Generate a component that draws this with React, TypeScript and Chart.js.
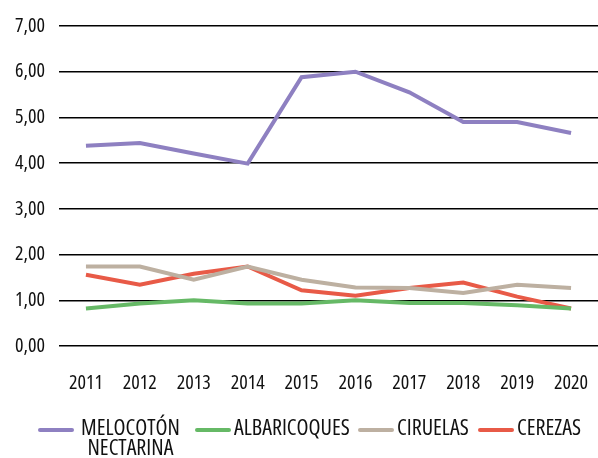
import React, { useEffect, useRef } from "react";
import { Chart, registerables } from "chart.js";

Chart.register(...registerables);

const years = ["2011", "2012", "2013", "2014", "2015", "2016", "2017", "2018", "2019", "2020"];
const melocoton = [4.38, 4.44, 4.21, 3.99, 5.88, 6.0, 5.55, 4.9, 4.9, 4.66];
const albaricoques = [0.82, 0.93, 1.0, 0.93, 0.93, 1.0, 0.94, 0.94, 0.89, 0.82];
const ciruelas = [1.74, 1.74, 1.45, 1.74, 1.45, 1.28, 1.27, 1.16, 1.34, 1.27];
const cerezas = [1.56, 1.34, 1.58, 1.74, 1.22, 1.1, 1.27, 1.39, 1.08, 0.82];
const seriesNames: (string | string[])[] = [["MELOCOTÓN", "NECTARINA"], "ALBARICOQUES", "CIRUELAS", "CEREZAS"];
const seriesColors = ["#8e80c1", "#66b966", "#bdb0a1", "#e85a47"];

const FAMILY = "'Open Sans', 'Roboto Condensed', sans-serif";

const legendPlugin = {
  id: "customLegend",
  afterDraw(chart: any) {
    const ctx = chart.ctx;
    const lineStarts = [38, 195, 358, 478];
    const lineLen = 36;
    const lineY = 430;
    ctx.save();
    chart.data.datasets.forEach((ds: any, i: number) => {
      const x0 = lineStarts[i];
      ctx.strokeStyle = ds.borderColor;
      ctx.lineWidth = 4;
      ctx.lineCap = "round";
      ctx.beginPath();
      ctx.moveTo(x0 + 2, lineY);
      ctx.lineTo(x0 + lineLen - 2, lineY);
      ctx.stroke();
      const label = seriesNames[i];
      const lines = Array.isArray(label) ? label : [label];
      ctx.fillStyle = "#111";
      ctx.textBaseline = "middle";
      ctx.textAlign = "left";
      ctx.font = `condensed 22px ${FAMILY}`;
      const widths = lines.map((l) => ctx.measureText(l).width);
      const maxW = Math.max(...widths);
      const tx = x0 + lineLen + (lines.length > 1 ? 7 : 3);
      lines.forEach((l, j) => {
        const x = tx + (maxW - widths[j]) / 2;
        ctx.fillText(l, x, 429 + j * 20);
      });
    });
    ctx.restore();
  },
};

export default function App() {
  const ref = useRef<HTMLCanvasElement | null>(null);
  useEffect(() => {
    if (!ref.current) return;
    const data = [melocoton, albaricoques, ciruelas, cerezas];
    const chart = new Chart(ref.current, {
      type: "line",
      data: {
        labels: years,
        datasets: data.map((d, i) => ({
          label: Array.isArray(seriesNames[i]) ? (seriesNames[i] as string[]).join(" ") : (seriesNames[i] as string),
          data: d,
          borderColor: seriesColors[i],
          backgroundColor: seriesColors[i],
          borderWidth: 4,
          pointRadius: 0,
          tension: 0,
          fill: false,
        })),
      },
      options: {
        animation: false,
        responsive: true,
        maintainAspectRatio: false,
        layout: { padding: { top: 23, right: -3, left: 0, bottom: 62 } },
        plugins: { legend: { display: false }, tooltip: { enabled: false } },
        scales: {
          x: {
            offset: true,
            grid: { display: false, drawTicks: true, tickLength: 25 },
            border: { display: false },
            ticks: {
              color: "#111",
              font: { family: FAMILY, size: 20, weight: "condensed" as any },
              padding: 0,
              maxRotation: 0,
              autoSkip: false,
            },
            afterFit: (s: any) => {
              s.height = 50;
              s.paddingLeft = 0;
              s.paddingRight = 0;
            },
          },
          y: {
            min: 0,
            max: 7,
            ticks: {
              stepSize: 1,
              color: "#111",
              font: { family: FAMILY, size: 20, weight: "condensed" as any },
              padding: 14,
              callback: (v: any) => Number(v).toFixed(2).replace(".", ","),
            },
            grid: { color: "#000", lineWidth: 1.5, drawTicks: false },
            border: { display: false },
            afterFit: (s: any) => {
              s.width = 59;
            },
          },
        },
      },
      plugins: [legendPlugin],
    });
    return () => chart.destroy();
  }, []);
  return (
    <div style={{ position: "fixed", left: 0, top: 0, width: 598, height: 458, background: "#fff" }}>
      <canvas ref={ref} />
    </div>
  );
}
